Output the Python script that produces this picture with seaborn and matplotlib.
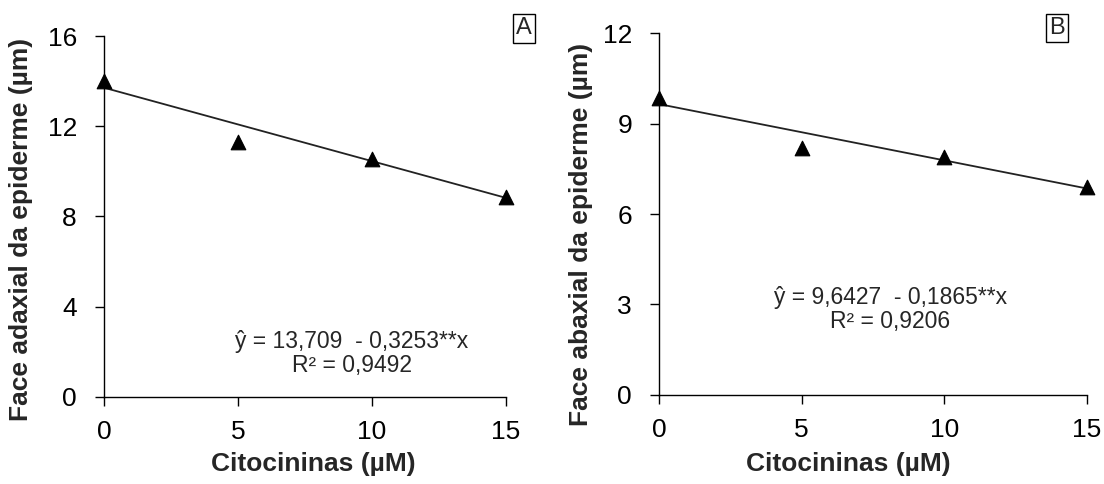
import numpy as np
import pandas as pd
import seaborn as sns
import matplotlib.pyplot as plt

# dados
doses = [0, 5, 10, 15]
adaxial = [14.0, 11.3, 10.55, 8.85]
abaxial = [9.85, 8.18, 7.88, 6.88]

# coeficientes das equações (intercepto, inclinação)
coef_a = [13.709, -0.3253]
coef_b = [9.6427, -0.1865]

sns.set_style('ticks')
plt.rcParams['font.family'] = ['Liberation Sans', 'DejaVu Sans']

fig = plt.figure(figsize=(11.04, 4.84), dpi=100)
ax_a = fig.add_axes([0.0942, 0.1798, 0.3638, 0.7458])
ax_b = fig.add_axes([0.597, 0.1839, 0.3876, 0.7479])


def painel(ax, y, coef, ymax, ystep, ylabel, letra, letra_pos, eq, r2, eq_pos, ylab_pos, xlab_pos):
    df = pd.DataFrame({'x': doses, 'y': y})
    xs = np.array([doses[0], doses[-1]])
    sns.lineplot(x=xs, y=coef[0] + coef[1] * xs, ax=ax, color='#222222', linewidth=1.3)
    sns.scatterplot(data=df, x='x', y='y', ax=ax, marker='^', s=110, color='black',
                    edgecolor='black', clip_on=False, zorder=5)
    ax.set_xlim(0, 15)
    ax.set_ylim(0, ymax)
    ax.set_xticks(doses)
    ax.set_yticks(np.arange(0, ymax + 0.1, ystep))
    ax.tick_params(labelsize=19, length=6.5, width=1, colors='black')
    ax.tick_params(axis='y', pad=13)
    ax.tick_params(axis='x', pad=10)
    for s in ['top', 'right']:
        ax.spines[s].set_visible(False)
    for s in ['left', 'bottom']:
        ax.spines[s].set_color('black')
        ax.spines[s].set_linewidth(1)
    ax.set_xlabel('Citocininas (µM)', fontsize=19, fontweight='bold')
    ax.xaxis.set_label_coords(xlab_pos[0], xlab_pos[1])
    ax.set_ylabel(ylabel, fontsize=19, fontweight='bold')
    ax.yaxis.set_label_coords(ylab_pos[0], ylab_pos[1])
    ax.text(letra_pos[0], letra_pos[1], letra, transform=ax.transAxes, fontsize=17,
            ha='center', va='center',
            bbox=dict(boxstyle='square,pad=0.14', fc='white', ec='black', lw=1))
    ax.text(eq_pos[0], eq_pos[1], eq + '\n' + r2, transform=ax.transAxes, fontsize=16.5,
            ha='center', va='center', linespacing=1.05)


painel(ax_a, adaxial, coef_a, 16, 4, 'Face adaxial da epiderme (µm)', 'A', (1.046, 1.021),
       'ŷ = 13,709  - 0,3253**x', 'R² = 0,9492', (0.617, 0.12), (-0.177, 0.463), (0.522, -0.152))
painel(ax_b, abaxial, coef_b, 12, 3, 'Face abaxial da epiderme (µm)', 'B', (0.93, 1.014),
       'ŷ = 9,6427  - 0,1865**x', 'R² = 0,9206', (0.54, 0.235), (-0.154, 0.443), (0.442, -0.157))

fig.savefig('out.png', dpi=100)
